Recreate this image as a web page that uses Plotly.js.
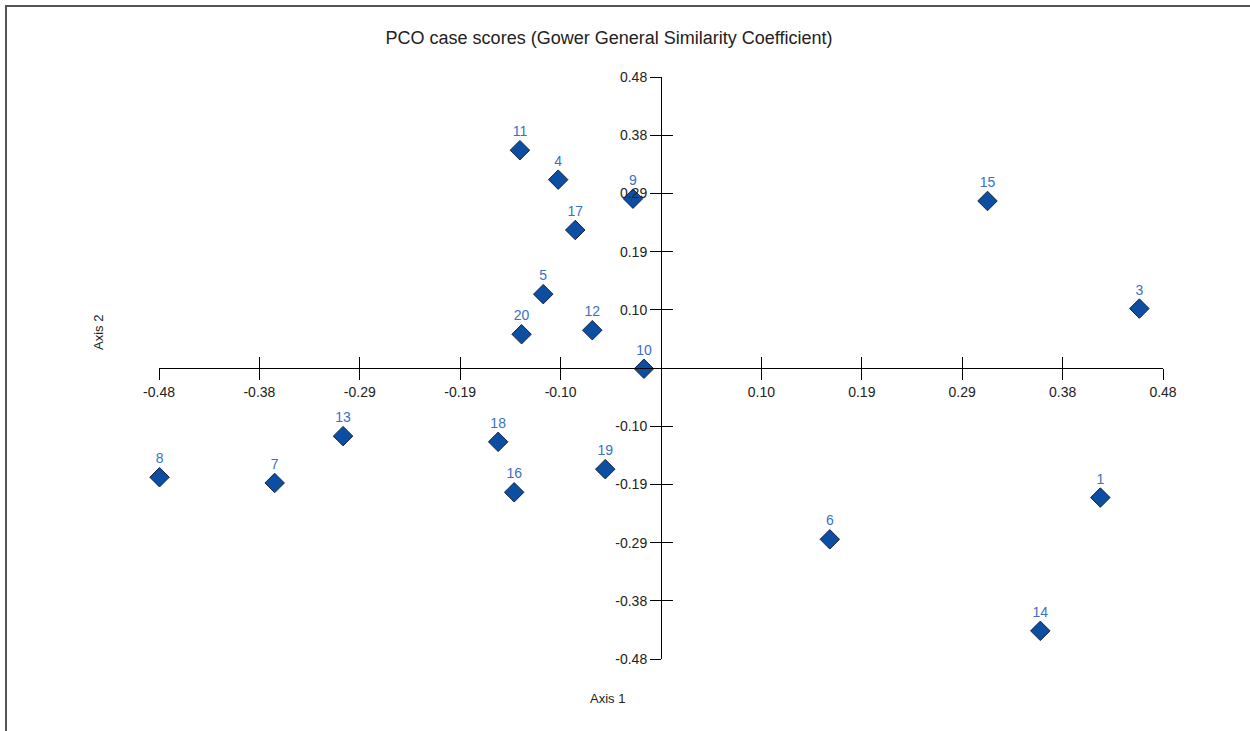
<!DOCTYPE html>
<html>
<head>
<meta charset="utf-8">
<script src="https://cdn.plot.ly/plotly-3.0.1.min.js"></script>
<style>
  html, body { margin: 0; padding: 0; background: #fff; }
  #wrap { position: relative; width: 1250px; height: 731px; overflow: hidden; }
  #chart { position: absolute; left: 0; top: 0; width: 1250px; height: 731px; }
  #frame { position: absolute; left: 5px; top: 5px; width: 1260px; height: 740px;
           border-left: 2px solid #555; border-top: 2px solid #555; pointer-events: none; }
</style>
</head>
<body>
<div id="wrap">
  <div id="chart"></div>
  <div id="frame"></div>
</div>
<script>
// Case labels and PCO scores
const caseLabels = ['1','3','4','5','6','7','8','9','10','11','12','13','14','15','16','17','18','19','20'];
const axis1Scores = [0.4201, 0.4574, -0.0983, -0.1126, 0.1614, -0.3694, -0.4795, -0.0268, -0.0163, -0.1349, -0.0657, -0.3040, 0.3627, 0.3122, -0.1404, -0.0820, -0.1557, -0.0533, -0.1333];
const axis2Scores = [-0.2137, 0.0980, 0.3107, 0.1218, -0.2826, -0.1896, -0.1802, 0.2793, -0.0012, 0.3592, 0.0623, -0.1124, -0.4336, 0.2755, -0.2050, 0.2276, -0.1218, -0.1669, 0.0557];

// Axis ticks
const tickValues = [-0.48, -0.384, -0.288, -0.192, -0.096, 0.096, 0.192, 0.288, 0.384, 0.48];
const tickLabels = ['-0.48', '-0.38', '-0.29', '-0.19', '-0.10', '0.10', '0.19', '0.29', '0.38', '0.48'];
const axisRange = [-0.48, 0.48];

const FONT = 'Arial, "Liberation Sans", sans-serif';

const traces = [
  {
    type: 'scatter',
    mode: 'markers+text',
    x: axis1Scores,
    y: axis2Scores,
    text: caseLabels,
    textposition: 'top center',
    textfont: { family: FONT, size: 14, color: '#3a70c2' },
    marker: { symbol: 'diamond', size: 15, color: '#0b4ea2', line: { color: '#1b2540', width: 1 } },
    cliponaxis: false,
    hoverinfo: 'x+y+text',
    showlegend: false,
    xaxis: 'x', yaxis: 'y'
  },
  {
    type: 'scatter', mode: 'markers', x: [], y: [],
    xaxis: 'x2', yaxis: 'y2', showlegend: false, hoverinfo: 'skip'
  }
];

const baseAxis = {
  range: axisRange,
  tickvals: tickValues,
  showgrid: false,
  zeroline: false,
  fixedrange: true,
  anchor: 'free',
  position: 0.5,
  ticklen: 11,
  tickwidth: 1,
  tickcolor: '#000',
  tickfont: { family: FONT, size: 14, color: '#222' }
};

const layout = {
  width: 1250,
  height: 731,
  paper_bgcolor: '#fff',
  plot_bgcolor: 'rgba(0,0,0,0)',
  margin: { l: 159, r: 87, t: 77, b: 72 },
  title: {
    text: 'PCO case scores (Gower General Similarity Coefficient)',
    font: { family: FONT, size: 18, color: '#222' },
    x: 609 / 1250, xref: 'container', xanchor: 'center',
    y: 1 - 38 / 731, yref: 'container', yanchor: 'middle'
  },
  xaxis: Object.assign({}, baseAxis, {
    ticks: 'outside', ticktext: tickLabels, showticklabels: true,
    showline: true, linecolor: '#000', linewidth: 1
  }),
  yaxis: Object.assign({}, baseAxis, {
    ticks: 'outside', ticktext: tickLabels, showticklabels: true,
    showline: true, linecolor: '#000', linewidth: 1
  }),
  xaxis2: Object.assign({}, baseAxis, {
    overlaying: 'x', ticks: 'inside', showticklabels: false, showline: false
  }),
  yaxis2: Object.assign({}, baseAxis, {
    overlaying: 'y', ticks: 'inside', showticklabels: false, showline: false
  }),
  annotations: [
    { text: 'Axis 1', xref: 'paper', yref: 'paper', x: (607 - 159) / 1004, y: -(698 - 659) / 582,
      xanchor: 'center', yanchor: 'middle', showarrow: false, font: { family: FONT, size: 13, color: '#222' } },
    { text: 'Axis 2', xref: 'paper', yref: 'paper', x: (98 - 159) / 1004, y: (659 - 333) / 582,
      xanchor: 'center', yanchor: 'middle', textangle: -90, showarrow: false, font: { family: FONT, size: 13, color: '#222' } }
  ]
};

Plotly.newPlot('chart', traces, layout, { displayModeBar: false });
</script>
</body>
</html>
